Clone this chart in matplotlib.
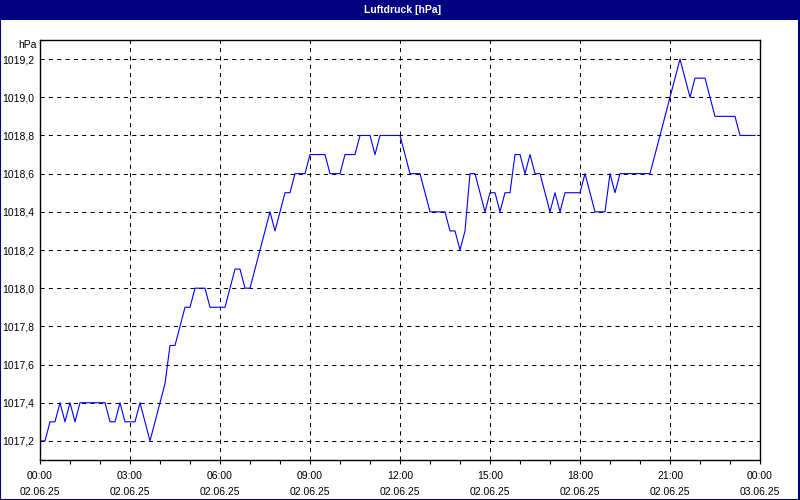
import matplotlib

matplotlib.use("Agg")
import matplotlib.dates as mdates
import matplotlib.pyplot as plt
import numpy as np
from matplotlib.patches import Rectangle
from matplotlib.ticker import FuncFormatter, MultipleLocator

# readings every 10 minutes, 02.06.25 00:00 .. 23:50
start = np.datetime64("2025-06-02T00:00")
end = np.datetime64("2025-06-03T00:00")
times = np.arange(start, end, np.timedelta64(10, "m"))

pressure = [
    1017.2, 1017.2, 1017.3, 1017.3, 1017.4, 1017.3, 1017.4, 1017.3, 1017.4, 1017.4,
    1017.4, 1017.4, 1017.4, 1017.4, 1017.3, 1017.3, 1017.4, 1017.3, 1017.3, 1017.3,
    1017.4, 1017.3, 1017.2, 1017.3, 1017.4, 1017.5, 1017.7, 1017.7, 1017.8, 1017.9,
    1017.9, 1018.0, 1018.0, 1018.0, 1017.9, 1017.9, 1017.9, 1017.9, 1018.0, 1018.1,
    1018.1, 1018.0, 1018.0, 1018.1, 1018.2, 1018.3, 1018.4, 1018.3, 1018.4, 1018.5,
    1018.5, 1018.6, 1018.6, 1018.6, 1018.7, 1018.7, 1018.7, 1018.7, 1018.6, 1018.6,
    1018.6, 1018.7, 1018.7, 1018.7, 1018.8, 1018.8, 1018.8, 1018.7, 1018.8, 1018.8,
    1018.8, 1018.8, 1018.8, 1018.7, 1018.6, 1018.6, 1018.6, 1018.5, 1018.4, 1018.4,
    1018.4, 1018.4, 1018.3, 1018.3, 1018.2, 1018.3, 1018.6, 1018.6, 1018.5, 1018.4,
    1018.5, 1018.5, 1018.4, 1018.5, 1018.5, 1018.7, 1018.7, 1018.6, 1018.7, 1018.6,
    1018.6, 1018.5, 1018.4, 1018.5, 1018.4, 1018.5, 1018.5, 1018.5, 1018.5, 1018.6,
    1018.5, 1018.4, 1018.4, 1018.4, 1018.6, 1018.5, 1018.6, 1018.6, 1018.6, 1018.6,
    1018.6, 1018.6, 1018.6, 1018.7, 1018.8, 1018.9, 1019.0, 1019.1, 1019.2, 1019.1,
    1019.0, 1019.1, 1019.1, 1019.1, 1019.0, 1018.9, 1018.9, 1018.9, 1018.9, 1018.9,
    1018.8, 1018.8, 1018.8, 1018.8,
]

title = "Luftdruck [hPa]"
unit = "hPa"
navy = "#000080"

plt.rcParams["font.family"] = ["Liberation Sans", "DejaVu Sans"]
plt.rcParams["font.size"] = 7.5

fig = plt.figure(figsize=(8, 5), dpi=100)
fig.patch.set_facecolor("white")

# title bar and window frame
fig.patches.append(Rectangle((0, 0.96), 1, 0.04, transform=fig.transFigure,
                             facecolor=navy, edgecolor="none", zorder=0))
fig.patches.append(Rectangle((0.0006, 0.001), 0.9982, 0.998, transform=fig.transFigure,
                             facecolor="none", edgecolor=navy, linewidth=1.5, zorder=5))
fig.text(0.503, 0.98, title, color="white", fontweight="bold", fontsize=7.5,
         ha="center", va="center")

ax = fig.add_axes([0.05, 0.08, 0.90, 0.84])
ax.plot(times, pressure, color="#0000ff", linewidth=0.8, zorder=3)

ax.set_xlim(start, end)
ax.set_ylim(1017.1, 1019.3)

ax.yaxis.set_major_locator(MultipleLocator(0.2))
ax.yaxis.set_major_formatter(FuncFormatter(lambda v, _: f"{v:.1f}".replace(".", ",")))
ax.xaxis.set_major_locator(mdates.HourLocator(byhour=range(0, 24, 3)))
ax.xaxis.set_minor_locator(mdates.HourLocator())
ax.xaxis.set_major_formatter(mdates.DateFormatter("%H:%M\n%d.%m.%y"))

ax.grid(True, which="major", color="black", linestyle=(0, (4, 4)), linewidth=0.75)
ax.tick_params(axis="x", which="both", direction="out", length=3, width=0.8, pad=5)
ax.tick_params(axis="y", length=0, pad=4)
for label in ax.get_xticklabels():
    label.set_linespacing(1.75)

for spine in ax.spines.values():
    spine.set_linewidth(1.0)
    spine.set_color("black")

ax.text(-0.005, 1.0, unit, transform=ax.transAxes, ha="right", va="top")

fig.savefig("out.png", dpi=100)
